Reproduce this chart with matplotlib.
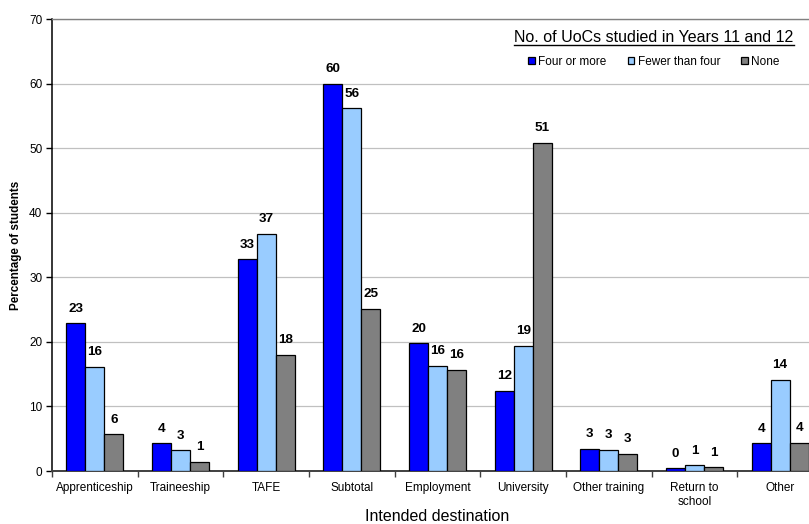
import numpy as np
import matplotlib
matplotlib.use('Agg')
import matplotlib.pyplot as plt
from matplotlib.lines import Line2D

plt.rcParams['font.family'] = ['Liberation Sans', 'DejaVu Sans']

# destinations on the x axis
destinations = ['Apprenticeship', 'Traineeship', 'TAFE', 'Subtotal', 'Employment',
                'University', 'Other training', 'Return to\nschool', 'Other']

# percentage of students, by number of UoCs studied in Years 11 and 12
four_or_more = [22.9, 4.3, 32.8, 60.0, 19.8, 12.4, 3.4, 0.4, 4.3]
fewer_than_four = [16.1, 3.2, 36.7, 56.2, 16.3, 19.4, 3.3, 0.9, 14.1]
none = [5.7, 1.4, 18.0, 25.1, 15.7, 50.8, 2.7, 0.6, 4.4]

series_names = ['Four or more', 'Fewer than four', 'None']
series_vals = [four_or_more, fewer_than_four, none]
colors = ['#0000FF', '#99CCFF', '#808080']

fig = plt.figure(figsize=(8.09, 5.24), dpi=100)
ax = fig.add_axes([52/809, 53/524, 771/809, 452/524])

x = np.arange(len(destinations))
w = 0.222
for i, (name, vals, col) in enumerate(zip(series_names, series_vals, colors)):
    pos = x + (i - 1) * w
    bars = ax.bar(pos, vals, width=w, color=col, edgecolor='black',
                  linewidth=0.9, label=name, zorder=3)
    for xp, v in zip(pos, vals):
        ax.annotate('%.0f' % v, (xp, v), xytext=(0, 10.5), textcoords='offset points',
                    ha='center', va='center', fontsize=9.7, fontweight='bold')

ax.set_xlim(-0.5, len(destinations) - 0.5)
ax.set_ylim(0, 70)
ax.set_yticks(np.arange(0, 71, 10))
ax.yaxis.grid(True, color='#c0c0c0', linewidth=0.9, zorder=0)
ax.set_axisbelow(True)

# category labels sit between the boundary ticks
ax.set_xticks(x)
ax.set_xticklabels(destinations, fontsize=8.5)
ax.set_xticks(np.arange(-0.5, len(destinations), 1), minor=True)
ax.tick_params(axis='x', which='major', length=0, pad=8)
ax.tick_params(axis='x', which='minor', length=4, width=1, color='#404040')
ax.tick_params(axis='y', length=4, width=1, pad=3, labelsize=8.5)

ax.spines['right'].set_visible(False)
ax.spines['top'].set_color('#808080')
ax.spines['top'].set_linewidth(1.0)
ax.spines['left'].set_linewidth(1.1)
ax.spines['bottom'].set_color('#404040')
ax.spines['bottom'].set_linewidth(1.4)

ax.set_xlabel('Intended destination', fontsize=11.5)
ax.xaxis.set_label_coords(0.5, -38/452)
ax.set_ylabel('Percentage of students', fontsize=8.4, fontweight='bold')
ax.yaxis.set_label_coords(-30/771, 0.5)

leg = fig.legend(loc='upper center', bbox_to_anchor=(654/809, 1 - 24/524),
                 ncol=3, frameon=False, fontsize=8.5,
                 title='No. of UoCs studied in Years 11 and 12',
                 title_fontsize=11.5, handlelength=0.55, handleheight=0.55,
                 handletextpad=0.3, columnspacing=1.8, borderpad=0,
                 labelspacing=0.2)
leg._legend_box.sep = 8

# underline the legend title
fig.canvas.draw()
bb = leg.get_title().get_window_extent()
inv = fig.transFigure.inverted()
(x0, y0), (x1, _) = inv.transform([(bb.x0, bb.y0 - 0.5), (bb.x1, bb.y0)])
fig.add_artist(Line2D([x0, x1], [y0, y0], color='black', linewidth=1.0,
                      transform=fig.transFigure))

fig.savefig('out.png', dpi=100)
